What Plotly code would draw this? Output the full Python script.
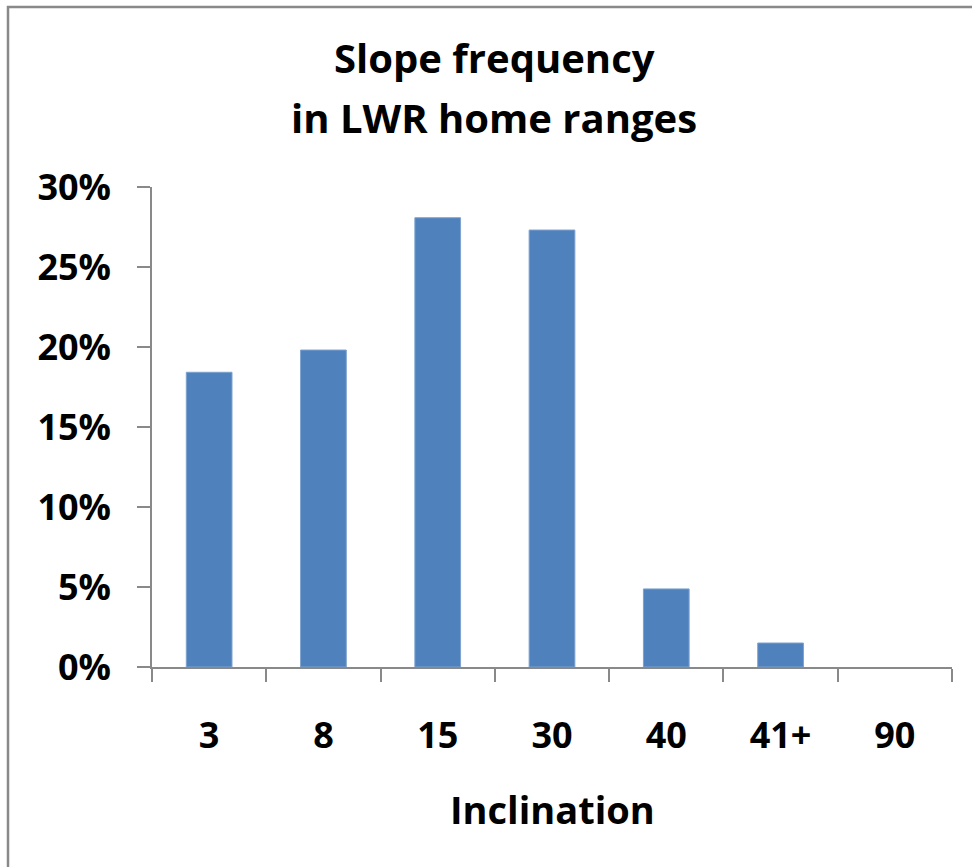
import plotly.graph_objects as go

# Slope classes (degrees of inclination) and share of home-range area
inclination = ["3", "8", "15", "30", "40", "41+", "90"]
share = [0.1842, 0.1981, 0.2808, 0.2731, 0.0488, 0.0150, 0.0]

title_lines = ["Slope frequency", "in LWR home ranges"]
x_title = "Inclination"

W, H = 972, 867
L, R, T, B = 152, 20, 187, 200  # plot area 152..952 x 187..667

FONT = "Open Sans"
AXIS_GRAY = "#898989"


def px_x(px):
    return (px - L) / (W - L - R)


def px_y(py):
    return (H - B - py) / (H - T - B)


# empty classes get no outline so nothing is drawn on the baseline
edge_widths = [1 if v > 0 else 0 for v in share]

fig = go.Figure(
    go.Bar(
        x=inclination,
        y=share,
        marker=dict(color="#4F81BD", line=dict(color="#7EA2CE", width=edge_widths)),
        hoverinfo="x+y",
    )
)

fig.update_layout(
    width=W,
    height=H,
    margin=dict(l=L, r=R, t=T, b=B),
    paper_bgcolor="white",
    plot_bgcolor="white",
    bargap=0.6,
    showlegend=False,
    font=dict(family=FONT, color="black"),
)

fig.update_xaxes(
    type="category",
    tickson="boundaries",
    ticks="outside",
    ticklen=13,
    tickwidth=1.5,
    tickcolor=AXIS_GRAY,
    showline=True,
    linecolor=AXIS_GRAY,
    linewidth=1.5,
    showgrid=False,
    tickfont=dict(family=FONT, size=36, color="black", weight="bold"),
    ticklabelstandoff=36,
)

fig.update_yaxes(
    range=[0, 0.30],
    dtick=0.05,
    tickformat=".0%",
    ticks="outside",
    ticklen=13,
    tickwidth=1.5,
    tickcolor=AXIS_GRAY,
    showline=True,
    linecolor=AXIS_GRAY,
    linewidth=1.5,
    showgrid=False,
    zeroline=False,
    tickfont=dict(family=FONT, size=36, color="black", weight="bold"),
    ticklabelstandoff=19,
)

# Two-line chart title and x-axis title
for text, yc in zip(title_lines, (57, 117)):
    fig.add_annotation(
        text=f"<b>{text}</b>",
        xref="paper", yref="paper",
        x=px_x(494), y=px_y(yc),
        xanchor="center", yanchor="middle",
        showarrow=False,
        font=dict(family=FONT, size=40, color="black"),
    )

fig.add_annotation(
    text=f"<b>{x_title}</b>",
    xref="paper", yref="paper",
    x=px_x(552), y=px_y(809),
    xanchor="center", yanchor="middle",
    showarrow=False,
    font=dict(family=FONT, size=38, color="black"),
)

# Chart-area frame
fig.add_shape(
    type="rect",
    xref="paper", yref="paper",
    x0=px_x(8), x1=px_x(1100),
    y0=px_y(7), y1=px_y(1000),
    line=dict(color=AXIS_GRAY, width=2.5),
    fillcolor="rgba(0,0,0,0)",
    layer="below",
)

fig.write_html("out.html")
